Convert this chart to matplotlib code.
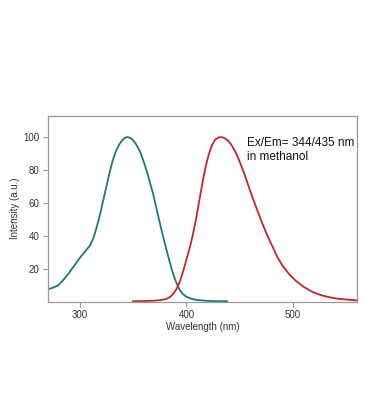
import matplotlib
matplotlib.use("Agg")
import matplotlib.pyplot as plt

# Excitation spectrum (teal)
ex_wavelength = [270, 275, 280, 285, 290, 295, 300, 305, 310, 313, 316, 319, 322, 325, 328, 331, 334,
                 337, 340, 343, 345, 347, 350, 353, 357, 360, 363, 366, 369, 372, 375, 378, 381,
                 384, 387, 390, 393, 396, 400, 405, 410, 420, 430, 438]
ex_intensity = [7.5, 8.5, 10, 13.5, 17.5, 22, 26.5, 30.5, 34.5, 39, 45.5, 53, 61.5, 70, 78.5, 86, 91.5,
                95.5, 98.3, 99.8, 100, 99.6, 98.2, 95.5, 90.5, 85, 79, 72, 65, 56.5, 48, 40, 32.5,
                25, 18, 12.5, 8, 5, 3, 1.7, 1, 0.5, 0.3, 0.3]

# Emission spectrum (red)
em_wavelength = [350, 360, 370, 376, 381, 385, 388, 391, 394, 397, 400, 403, 406, 409, 412, 415, 418,
                 421, 424, 427, 430, 433, 436, 439, 442, 446, 450, 455, 460, 465, 470, 475, 480,
                 485, 490, 496, 502, 510, 518, 526, 534, 542, 550, 560]
em_intensity = [0.3, 0.4, 0.6, 1, 1.6, 3, 5, 8, 12.5, 18.5, 25.5, 32.5, 40.5, 50, 61, 72, 82,
                89.5, 95, 98.5, 99.8, 100, 99.3, 97.8, 95.5, 91, 85, 76.5, 67, 58, 49.5, 41.5, 34.5,
                27.5, 22, 17, 13, 9, 6, 4, 2.7, 1.8, 1.3, 0.8]

x_ticks = [300, 400, 500]
y_ticks = [20, 40, 60, 80, 100]

plt.rcParams['font.family'] = ['Liberation Sans', 'DejaVu Sans']

fig = plt.figure(figsize=(3.7, 4.2), dpi=100)
ax = fig.add_axes([0.129, 0.2817, 0.836, 0.4428])

ax.plot(ex_wavelength, ex_intensity, color='#1b7b72', lw=1.3)
ax.plot(em_wavelength, em_intensity, color='#cc2228', lw=1.3)

ax.set_xlim(270, 560)
ax.set_ylim(0, 113)
ax.set_xticks(x_ticks)
ax.set_yticks(y_ticks)
for s in ax.spines.values():
    s.set_color('#9a9a9a')
    s.set_linewidth(0.9)
ax.tick_params(direction='out', length=3.5, width=0.8, color='#9a9a9a',
               labelsize=7, labelcolor='#333333', pad=2.5)
ax.set_xlabel('Wavelength (nm)', fontsize=7, color='#333333', labelpad=1.5)
ax.set_ylabel('Intensity (a.u.)', fontsize=7, color='#333333', labelpad=2)

ax.text(0.643, 0.885, 'Ex/Em= 344/435 nm\nin methanol', transform=ax.transAxes,
        fontsize=8.5, color='#111111', va='top', ha='left', linespacing=1.25)

fig.savefig('out.png', dpi=100)
